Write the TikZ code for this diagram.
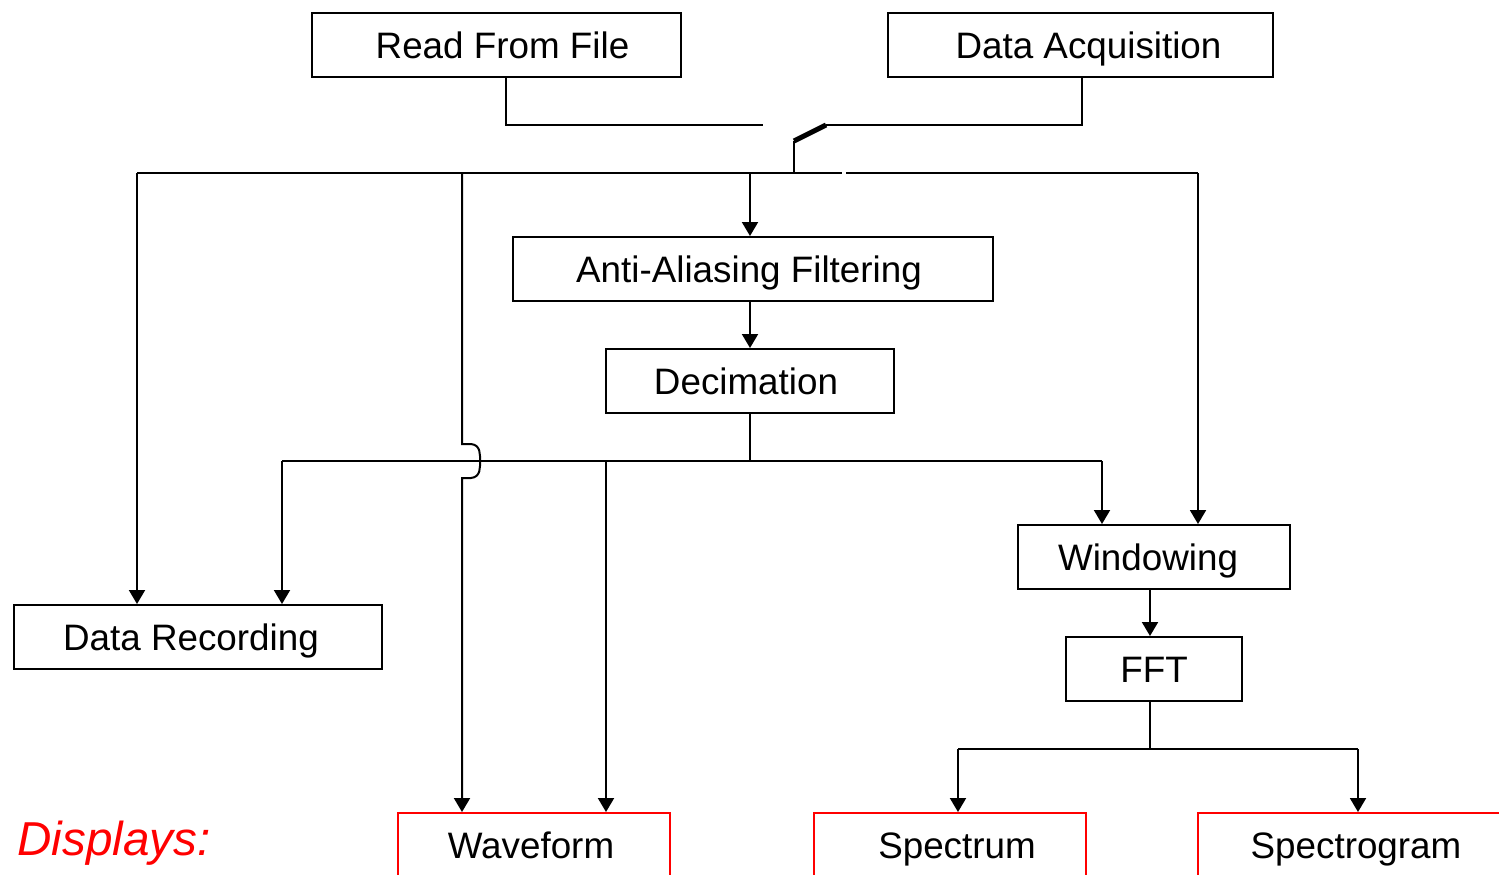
\documentclass[tikz,border=0pt]{standalone}
\usepackage{fontspec}
\setmainfont{Liberation Sans}
\usetikzlibrary{arrows.meta}
\begin{document}
\begin{tikzpicture}[x=0.5pt,y=-0.5pt,
  box/.style={draw,line width=1pt,inner sep=0pt,minimum height=32pt,
    text height=13.2pt,text depth=0pt,font=\fontsize{18.4}{22}\selectfont},
  disp/.style={box,draw=red},
  wire/.style={line width=1pt},
  arr/.style={wire,-{Triangle[length=7pt,width=8pt]}}]
\useasboundingbox (0,0) rectangle (1499,874);
% boxes
\node[box,minimum width=184.5pt] (rf) at (496.5,45) {\hspace*{6pt}Read From File};
\node[box,minimum width=192.5pt] (da) at (1080.5,45) {\hspace*{8pt}Data Acquisition};
\node[box,minimum width=240pt] (aaf) at (753,269) {Anti-Aliasing Filtering\hspace*{4pt}};
\node[box,minimum width=144pt] (dec) at (750,381) {Decimation\hspace*{4pt}};
\node[box,minimum width=136pt] (win) at (1154,557) {Windowing\hspace*{6pt}};
\node[box,minimum width=88pt] (fft) at (1154,669) {FFT};
\node[box,minimum width=184pt] (rec) at (198,637) {Data Recording\hspace*{7pt}};
\node[disp,minimum width=136pt] (wav) at (534,845) {Waveform\hspace*{3pt}};
\node[disp,minimum width=136pt] (spe) at (950,845) {\hspace*{7pt}Spectrum};
\node[disp,minimum width=158pt] (spg) at (1356,845) {Spectrogram};
\node[text=red,inner sep=0pt,anchor=base west,font=\fontsize{23.8}{28}\selectfont\itshape] (dl) at (17,855) {Displays:};
% switch
\coordinate (sw1) at (763,125);
\coordinate (sw2) at (826,125);
\coordinate (swb) at (794,141);
\coordinate (bus1) at (794,173);
\draw[wire] ([xshift=4.75pt]rf.south) |- (sw1);
\draw[wire] ([xshift=0.75pt]da.south) |- (sw2);
\draw[line width=2.5pt] (sw2) -- (swb);
\draw[wire] (swb) -- (bus1);
% top bus
\coordinate (busL) at (137,173);
\coordinate (busR) at (1198,173);
\coordinate (gapL) at (842,173);
\coordinate (gapR) at (846,173);
\coordinate (j1) at (750,173);
\coordinate (j2) at (462,173);
\draw[wire] (busL) -- (gapL);
\draw[wire] (gapR) -- (busR);
\draw[arr] (busL) -- (busL |- rec.north);
\draw[arr] (j1) -- (j1 |- aaf.north);
\draw[arr] (busR) -- (busR |- win.north);
\draw[arr] (j2) -- (462,444) -- (471,444) .. controls (481,445) and (480,455) .. (480,461)
  .. controls (480,467) and (481,477) .. (471,478) -- (462,478) -- (j2 |- wav.north);
% decimation chain
\draw[arr] (j1 |- aaf.south) -- (dec.north);
\coordinate (b2L) at (282,461);
\coordinate (b2M) at (606,461);
\coordinate (b2R) at (1102,461);
\draw[wire] (dec.south) -- (dec.south |- b2L);
\draw[wire] (b2L) -- (b2R);
\draw[arr] (b2L) -- (b2L |- rec.north);
\draw[arr] (b2M) -- (b2M |- wav.north);
\draw[arr] (b2R) -- (b2R |- win.north);
% FFT chain
\draw[arr] ([xshift=-2pt]win.south) -- ([xshift=-2pt]fft.north);
\coordinate (b3L) at (958,749);
\coordinate (b3R) at (1358,749);
\draw[wire] ([xshift=-2pt]fft.south) -- ([xshift=-2pt]fft.south |- b3L);
\draw[wire] (b3L) -- (b3R);
\draw[arr] (b3L) -- (b3L |- spe.north);
\draw[arr] (b3R) -- (b3R |- spg.north);
\end{tikzpicture}
\end{document}
